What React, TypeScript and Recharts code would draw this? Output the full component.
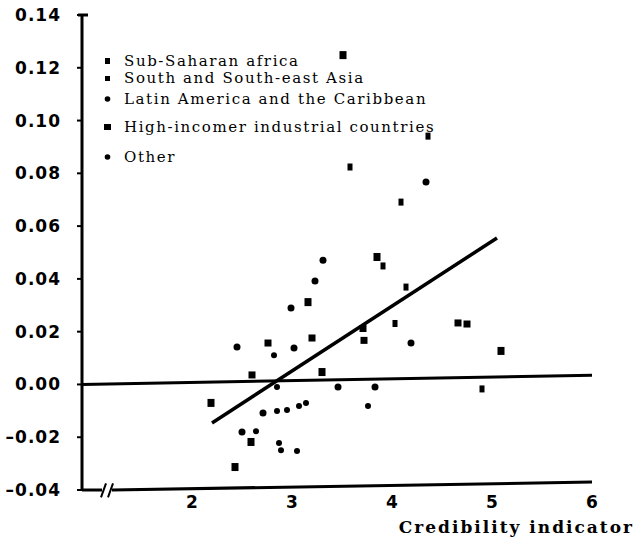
import { ScatterChart, Scatter, XAxis, YAxis, ReferenceLine, Label } from "recharts";

const regions = [
  "Sub-Saharan africa",
  "South and South-east Asia",
  "Latin America and the Caribbean",
  "High-incomer industrial countries",
  "Other",
];

// values: credibility indicator (x) vs. effect (y)
const africaX = [3.51, 3.85, 3.16, 5.09, 2.19, 2.43, 2.59, 3.3];
const africaY = [0.1248, 0.0483, 0.0312, 0.0127, -0.007, -0.0313, -0.0218, 0.0047];

const asiaX = [4.36, 3.58, 4.09, 3.91, 4.03, 4.9, 4.14];
const asiaY = [0.0941, 0.0824, 0.0691, 0.0449, 0.0231, -0.0017, 0.0369];

const latinX = [4.34, 3.31, 3.23, 2.99, 4.19, 2.45, 3.02, 2.71, 2.5, 3.46, 3.83];
const latinY = [0.0767, 0.0471, 0.0392, 0.029, 0.0157, 0.0142, 0.0138, -0.0108, -0.018, -0.001, -0.001];

const highX = [3.71, 3.72, 4.66, 4.75, 3.2, 2.76, 2.6];
const highY = [0.0212, 0.0167, 0.0233, 0.0229, 0.0176, 0.0157, 0.0036];

const otherX = [2.82, 2.85, 3.14, 3.07, 2.95, 2.85, 3.76, 2.64, 2.87, 2.89, 3.05];
const otherY = [0.0111, -0.001, -0.007, -0.0082, -0.0097, -0.0101, -0.0082, -0.0177, -0.0222, -0.0249, -0.0252];

const fitX = [2.2, 5.05];
const fitY = [-0.0146, 0.0555];

const xTicks = [2, 3, 4, 5, 6];
const yTicks = [-0.04, -0.02, 0, 0.02, 0.04, 0.06, 0.08, 0.1, 0.12, 0.14];

const pts = (xs: number[], ys: number[]) => xs.map((x, i) => ({ x, y: ys[i] }));

const ink = "#000";

const square = (w: number, h: number) => (p: any) => (
  <rect x={p.cx - w / 2} y={p.cy - h / 2} width={w} height={h} fill={ink} />
);
const dot = (r: number) => (p: any) => <circle cx={p.cx} cy={p.cy} r={r} fill={ink} />;

const legendMarks = [
  <rect x={1} y={2} width={5} height={6} fill={ink} />,
  <rect x={1} y={3} width={5} height={5} fill={ink} />,
  <circle cx={3.5} cy={5} r={2.8} fill={ink} />,
  <rect x={0} y={2} width={7} height={6} fill={ink} />,
  <circle cx={3.5} cy={5} r={2.8} fill={ink} />,
];
// centre line of each legend row, in px from the top of the chart
const legendRows = [61, 78, 99, 127, 157];

function RegionLegend() {
  return (
    <div style={{ position: "absolute", left: 104, top: 0, fontFamily: "DejaVu Serif", fontSize: 15, letterSpacing: 1.6, lineHeight: "16px", color: ink }}>
      {regions.map((r, i) => (
        <div
          key={r}
          style={{ position: "absolute", top: legendRows[i] - 8, left: 0, height: 16, display: "flex", alignItems: "center", whiteSpace: "nowrap" }}
        >
          <svg width={8} height={10} style={{ marginRight: 12 }}>
            {legendMarks[i]}
          </svg>
          <span>{r}</span>
        </div>
      ))}
    </div>
  );
}

const fmt = (v: number) => (v < 0 ? "–" + Math.abs(v).toFixed(2) : v.toFixed(2));

export default function App() {
  return (
    <div style={{ position: "absolute", left: 0, top: 0, width: 635, height: 539, background: "#fff" }}>
      <ScatterChart width={635} height={539} margin={{ top: 15, right: 43, bottom: 0, left: 0 }}>
        <XAxis
          type="number"
          dataKey="x"
          domain={[0.9, 6]}
          ticks={xTicks}
          axisLine={false}
          tickLine={false}
          tickSize={4}
          height={49}
          tick={{ fill: ink, fontSize: 17, fontWeight: 700, fontFamily: "DejaVu Sans" }}
        >
          <Label
            content={() => (
              <text
                x={634}
                y={533}
                textAnchor="end"
                fill={ink}
                fontFamily="DejaVu Serif"
                fontWeight={700}
                fontSize={17}
                letterSpacing={2}
              >
                Credibility indicator
              </text>
            )}
          />
        </XAxis>
        <YAxis
          type="number"
          dataKey="y"
          domain={[-0.04, 0.14]}
          ticks={yTicks}
          width={82}
          axisLine={{ stroke: ink, strokeWidth: 3 }}
          tickLine={{ stroke: ink, strokeWidth: 2 }}
          tickSize={5}
          tickMargin={16}
          tickFormatter={fmt}
          tick={{ fill: ink, fontSize: 17, fontWeight: 700, fontFamily: "DejaVu Sans", letterSpacing: 1 }}
        />
        {/* x axis drawn by hand so it can carry the // break */}
        <ReferenceLine
          segment={[{ x: 0.9, y: -0.04 }, { x: 1.1, y: -0.04 }]}
          stroke={ink}
          strokeWidth={3}
          ifOverflow="visible"
        />
        <ReferenceLine
          segment={[{ x: 1.2, y: -0.04 }, { x: 6, y: -0.037 }]}
          stroke={ink}
          strokeWidth={3}
          ifOverflow="visible"
        />
        <ReferenceLine
          segment={[{ x: 1.09, y: -0.0428 }, { x: 1.14, y: -0.0375 }]}
          stroke={ink}
          strokeWidth={2}
          ifOverflow="visible"
        />
        <ReferenceLine
          segment={[{ x: 1.16, y: -0.0428 }, { x: 1.21, y: -0.0375 }]}
          stroke={ink}
          strokeWidth={2}
          ifOverflow="visible"
        />
        <ReferenceLine
          segment={[{ x: 0.86, y: 0.14 }, { x: 0.96, y: 0.14 }]}
          stroke={ink}
          strokeWidth={3}
          ifOverflow="visible"
        />
        <ReferenceLine
          segment={[{ x: 0.9, y: 0 }, { x: 6, y: 0.0035 }]}
          stroke={ink}
          strokeWidth={3}
          ifOverflow="visible"
        />
        <Scatter
          name="fit"
          data={pts(fitX, fitY)}
          line={{ stroke: ink, strokeWidth: 3.5 }}
          shape={() => <g />}
          isAnimationActive={false}
          legendType="none"
        />
        <Scatter name={regions[0]} data={pts(africaX, africaY)} shape={square(7, 8)} isAnimationActive={false} />
        <Scatter name={regions[1]} data={pts(asiaX, asiaY)} shape={square(5, 7)} isAnimationActive={false} />
        <Scatter name={regions[2]} data={pts(latinX, latinY)} shape={dot(3.5)} isAnimationActive={false} />
        <Scatter name={regions[3]} data={pts(highX, highY)} shape={square(7, 7)} isAnimationActive={false} />
        <Scatter name={regions[4]} data={pts(otherX, otherY)} shape={dot(3)} isAnimationActive={false} />
      </ScatterChart>
      <RegionLegend />
    </div>
  );
}
